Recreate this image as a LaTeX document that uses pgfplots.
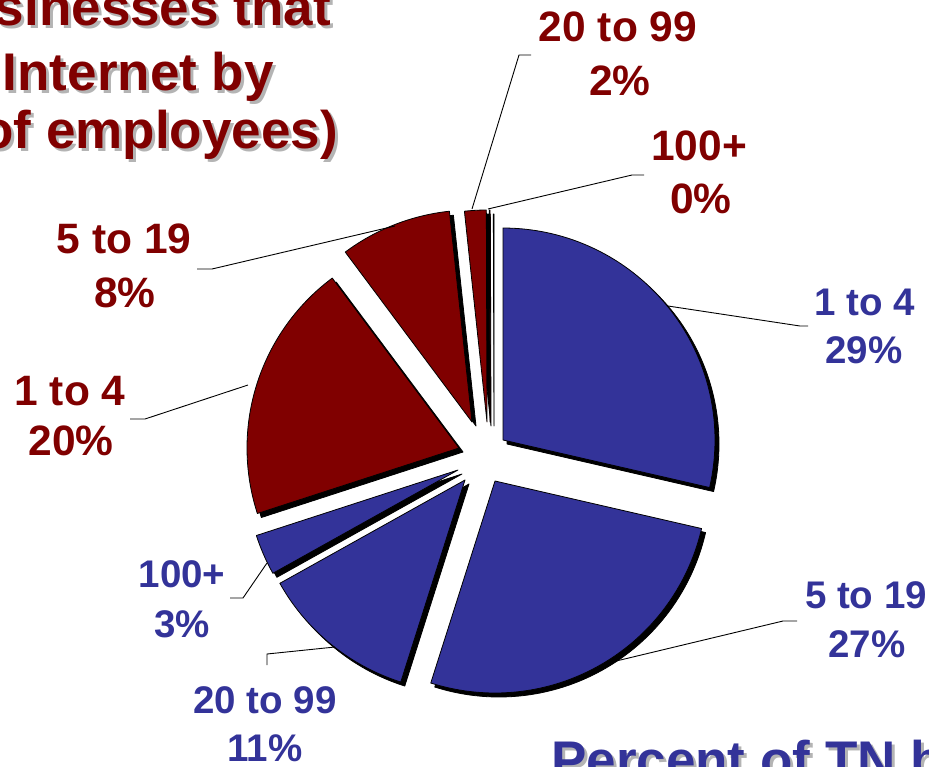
\documentclass[border=0pt]{standalone}
\usepackage{pgfplots}
\pgfplotsset{compat=1.18}
\usepackage{fontspec}
\setmainfont{Liberation Sans}
\definecolor{pblue}{HTML}{333399}
\definecolor{pred}{HTML}{800000}
\definecolor{shgray}{HTML}{B4B4B4}
\newcommand{\labelfont}{\fontsize{38.5}{46}\selectfont\bfseries}
\newcommand{\redlabelfont}{\fontsize{42.5}{50}\selectfont\bfseries}
\newcommand{\titlefont}{\fontsize{53}{60}\selectfont\bfseries}
% #1 apex x, #2 apex y (pixels), #3 start angle, #4 value (%), #5 fill colour, #6 offset
\newcommand{\drawslice}[6]{%
  \pgfmathsetmacro\angA{#3}%
  \pgfmathsetmacro\angB{#3-3.6*#4}%
  \pgfmathsetmacro\cx{#1+#6}%
  \pgfmathsetmacro\cy{#2+#6}%
  \edef\doslice{\noexpand\addplot[fill=#5, draw=black, line width=0.8pt, line join=round, domain=\angB:\angA, samples=80] ({\cx+212*cos(x)},{\cy-212*sin(x)}) -- (axis cs:\cx,\cy) -- cycle;}%
  \doslice}
\begin{document}
\begin{tikzpicture}
\useasboundingbox (0,0) rectangle (929pt,766pt);
\clip (0,0) rectangle (929pt,766pt);
\begin{axis}[at={(0,0)}, anchor=south west, scale only axis, width=929pt, height=766pt,
  xmin=0, xmax=929, ymin=0, ymax=766, y dir=reverse, hide axis, clip=false]
% shadows
\drawslice{503}{440}{90}{28.6}{black}{4}
\drawslice{495}{481}{-12.96}{26.3}{black}{4}
\drawslice{465}{480}{-107.64}{12.0}{black}{4}
\drawslice{458}{470}{-150.84}{3.1}{black}{4}
\drawslice{459}{448}{-162}{19.8}{black}{4}
\drawslice{472}{422}{-233.28}{8.5}{black}{4}
\drawslice{487}{422}{-263.88}{1.65}{black}{4}
\drawslice{490}{422}{-269.82}{0.05}{black}{4}
% slices
\drawslice{503}{440}{90}{28.6}{pblue}{0}
\drawslice{495}{481}{-12.96}{26.3}{pblue}{0}
\drawslice{465}{480}{-107.64}{12.0}{pblue}{0}
\drawslice{458}{470}{-150.84}{3.1}{pblue}{0}
\drawslice{459}{448}{-162}{19.8}{pred}{0}
\drawslice{472}{422}{-233.28}{8.5}{pred}{0}
\drawslice{487}{422}{-263.88}{1.65}{pred}{0}
\drawslice{490}{422}{-269.82}{0.05}{pred}{0}
% leader lines
\addplot[black, line width=0.9pt] coordinates {(668,306) (800,326) (808,326)};
\addplot[black, line width=0.9pt] coordinates {(612,662) (783,621) (797,621)};
\addplot[black, line width=0.9pt] coordinates {(230,598) (243,598) (267,563)};
\addplot[black, line width=0.9pt] coordinates {(335,647) (267,654) (267,665)};
\addplot[black, line width=0.9pt] coordinates {(130,419) (145,419) (248,385)};
\addplot[black, line width=0.9pt] coordinates {(197,269) (212,269) (395,226)};
\addplot[black, line width=0.9pt] coordinates {(472,209) (519,55) (531,55)};
\addplot[black, line width=0.9pt] coordinates {(488,209) (632,175) (644,175)};
% labels
\tikzset{lab/.style={anchor=base, inner sep=0pt, font=\labelfont},
         rlab/.style={anchor=base, inner sep=0pt, font=\redlabelfont, text=pred}}
\node[lab, text=pblue] at (axis cs:865,315) {1 to 4};
\node[lab, text=pblue] at (axis cs:864,363) {29\%};
\node[lab, text=pblue] at (axis cs:866,608) {5 to 19};
\node[lab, text=pblue] at (axis cs:867,657) {27\%};
\node[lab, text=pblue] at (axis cs:182,587) {100+};
\node[lab, text=pblue] at (axis cs:182,637) {3\%};
\node[lab, text=pblue] at (axis cs:265,713) {20 to 99};
\node[lab, text=pblue] at (axis cs:265,761) {11\%};
\node[rlab] at (axis cs:70,405) {1 to 4};
\node[rlab] at (axis cs:71,455) {20\%};
\node[rlab] at (axis cs:124,253) {5 to 19};
\node[rlab] at (axis cs:125,307) {8\%};
\node[rlab] at (axis cs:618,41) {20 to 99};
\node[rlab] at (axis cs:620,95) {2\%};
\node[rlab] at (axis cs:699,160) {100+};
\node[rlab] at (axis cs:701,213) {0\%};
% titles with shadow
\tikzset{ttl/.style={inner sep=0pt, font=\titlefont}}
\node[ttl, anchor=base east, text=shgray] at (axis cs:334,28) {Businesses that};
\node[ttl, anchor=base east, text=pred] at (axis cs:331,25) {Businesses that};
\node[ttl, anchor=base west, text=shgray] at (axis cs:5.6,93) {Internet by};
\node[ttl, anchor=base west, text=pred] at (axis cs:2.6,90) {Internet by};
\node[ttl, anchor=base east, text=shgray] at (axis cs:341,151) {(\# of employees)};
\node[ttl, anchor=base east, text=pred] at (axis cs:338,148) {(\# of employees)};
\node[ttl, anchor=base west, text=shgray] at (axis cs:554,781) {Percent of TN businesses};
\node[ttl, anchor=base west, text=pblue] at (axis cs:551,778) {Percent of TN businesses};
\end{axis}
\end{tikzpicture}
\end{document}
